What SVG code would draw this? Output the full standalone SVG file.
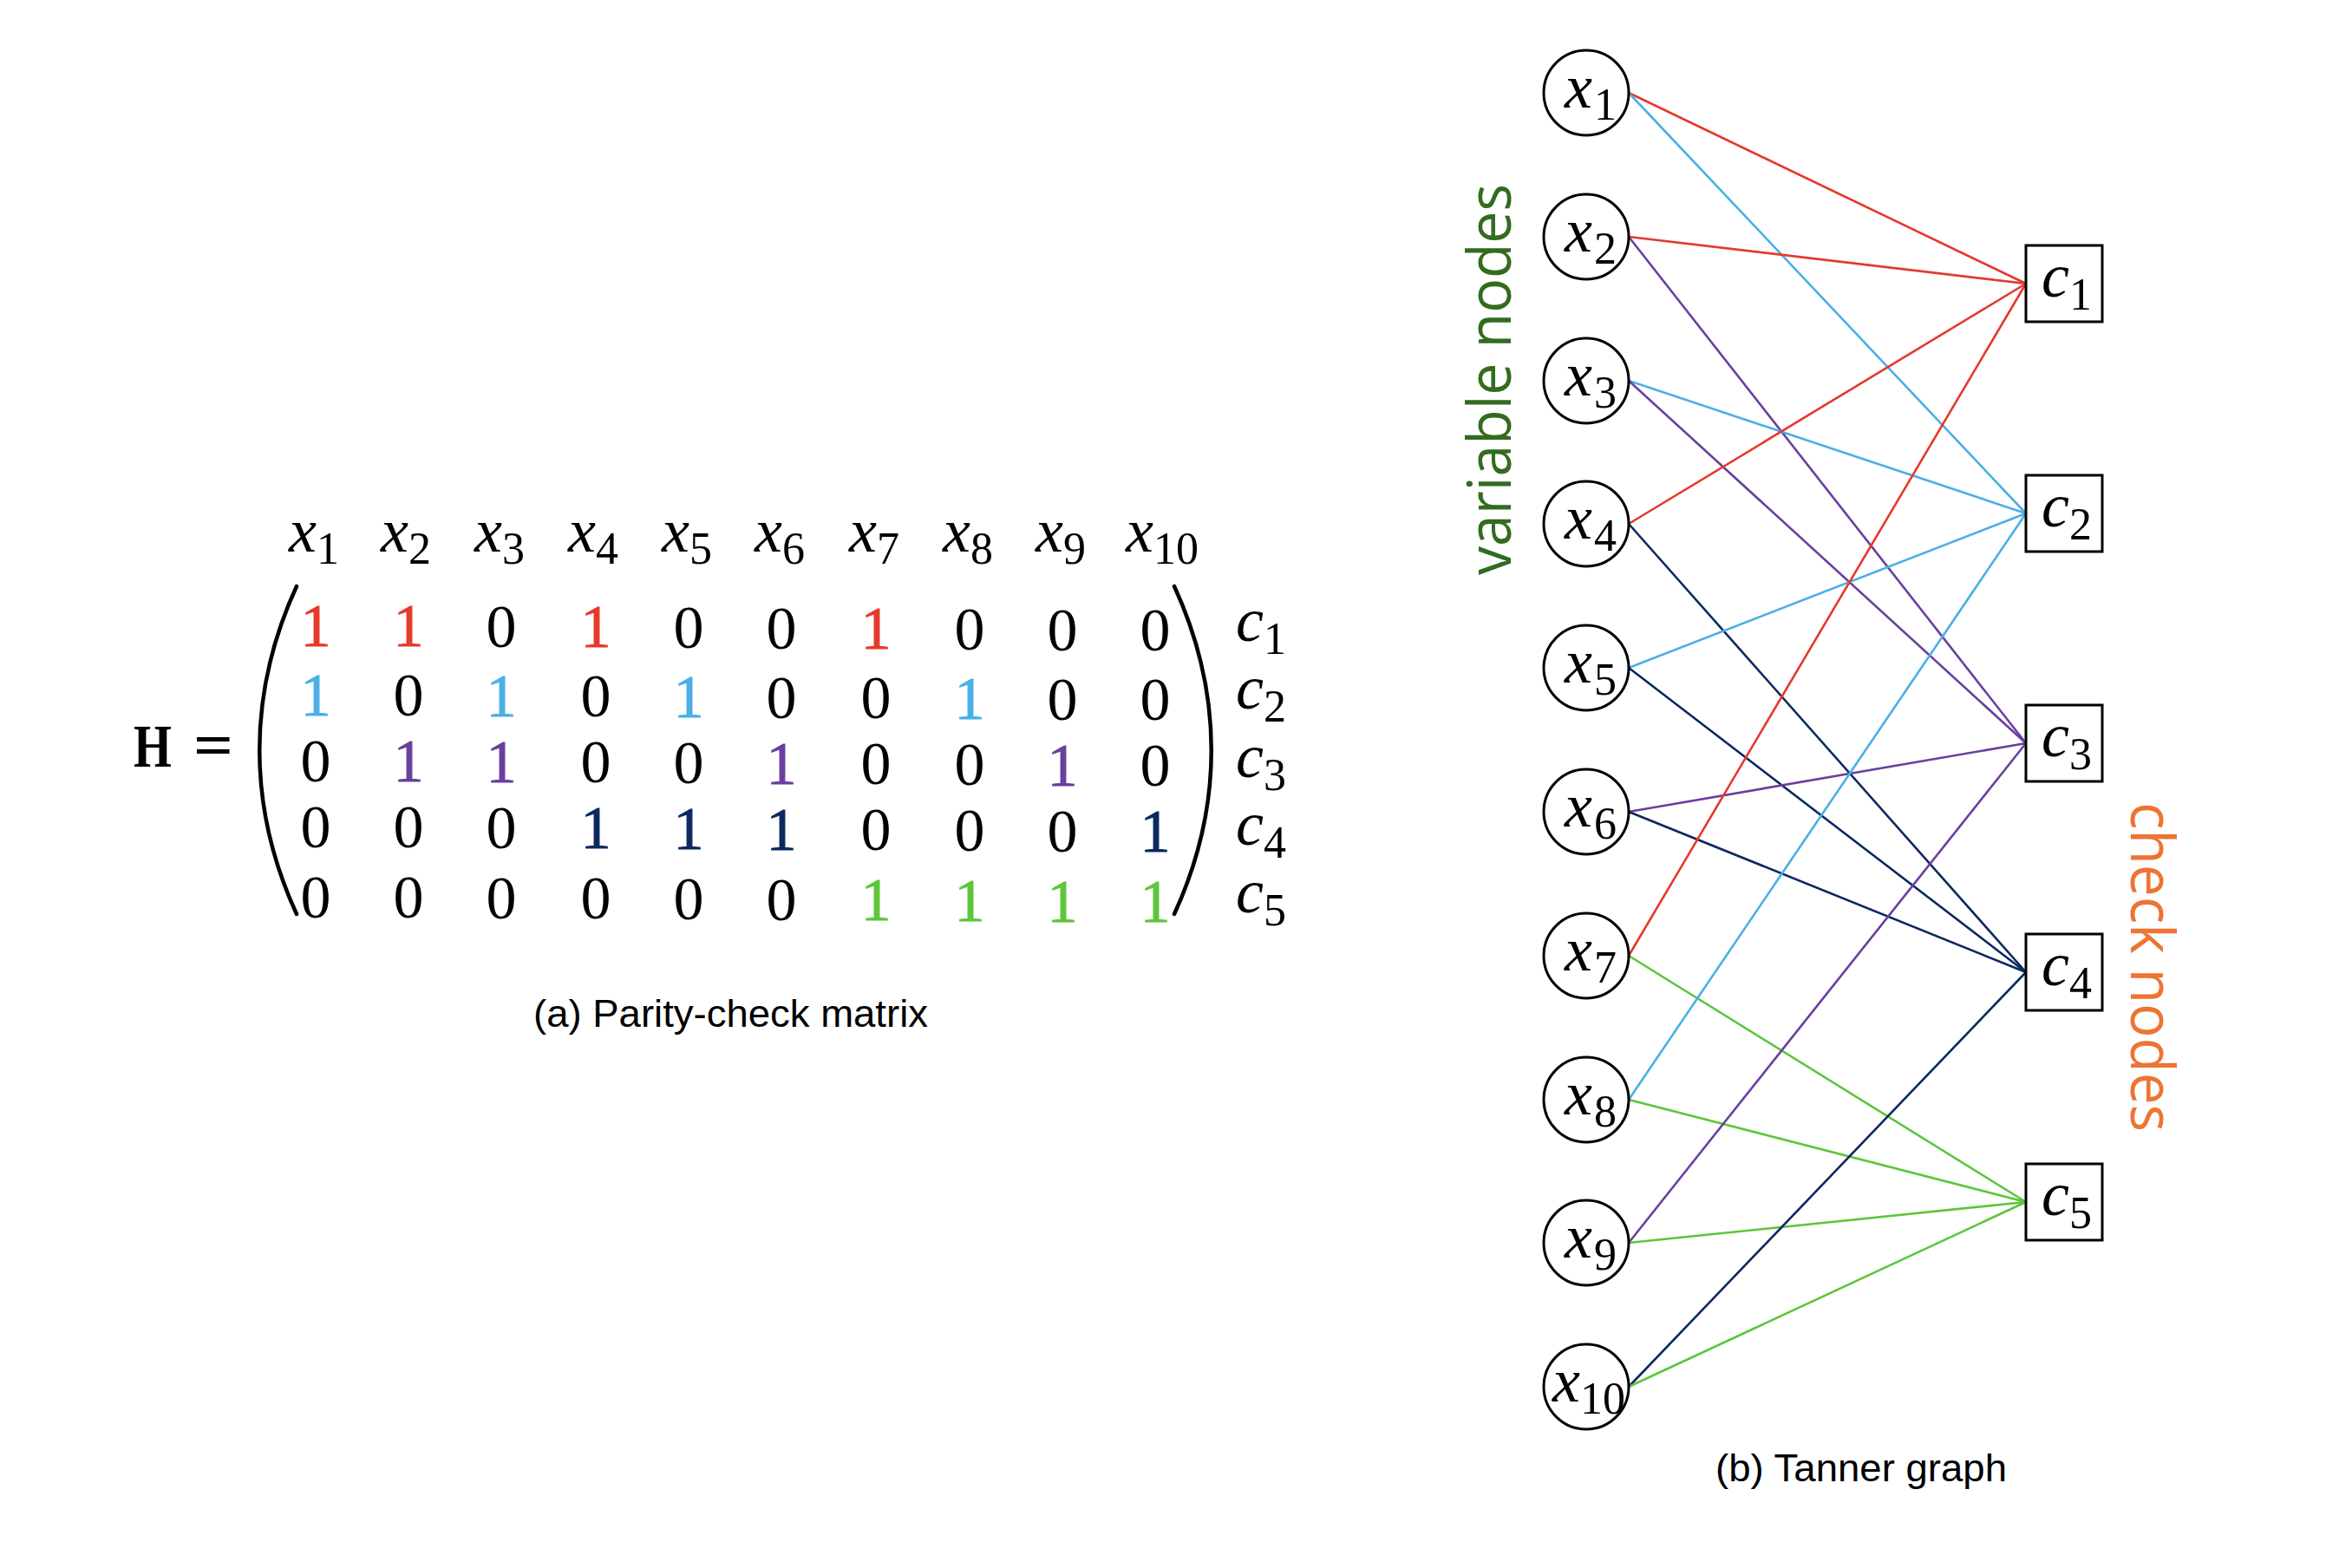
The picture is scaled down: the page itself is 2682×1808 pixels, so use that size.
<svg xmlns="http://www.w3.org/2000/svg" width="2682" height="1808" viewBox="0 0 2682 1808">
<defs>
<style>
.m{font-family:"Liberation Serif","DejaVu Serif",serif;font-style:italic;font-size:72px;fill:#000}
.sub{font-style:normal;font-size:52px}
.d{font-family:"Liberation Serif","DejaVu Serif",serif;font-size:70px;text-anchor:middle;fill:#000}
.cap{font-family:"Liberation Sans",Arial,sans-serif;font-size:44px;fill:#000}
.side{font-family:"Open Sans","Noto Sans",sans-serif;font-size:70px}
.vn{fill:#FFFFFF;stroke:#000;stroke-width:3}
.cn{fill:#FFFFFF;stroke:#000;stroke-width:3}
.e{fill:none;stroke-width:2.6}
.r{stroke:#E5392A;fill:#E5392A}
.b{stroke:#4AAFE6;fill:#4AAFE6}
.p{stroke:#6A3FA0;fill:#6A3FA0}
.n{stroke:#0C2860;fill:#0C2860}
.g{stroke:#5CC63B;fill:#5CC63B}
.paren{fill:none;stroke:#000;stroke-width:4.5;stroke-linecap:round}
</style>
</defs>
<rect width="2682" height="1808" fill="#FFFFFF"/>

<g id="matrix">
<text x="154" y="884" font-family="Liberation Serif,DejaVu Serif,serif" font-weight="bold" font-size="70" textLength="44" lengthAdjust="spacingAndGlyphs">H</text>
<text x="223" y="883" font-family="Liberation Serif,DejaVu Serif,serif" font-weight="bold" font-size="70" textLength="46" lengthAdjust="spacingAndGlyphs">=</text>
<path class="paren" d="M342,676 C285,800 285,930 342,1054"/>
<path class="paren" d="M1354,676 C1411,800 1411,930 1354,1054"/>
<g id="col-headers">
<text class="m" x="333" y="636">x<tspan class="sub" dy="14">1</tspan></text>
<text class="m" x="439" y="636">x<tspan class="sub" dy="14">2</tspan></text>
<text class="m" x="547" y="636">x<tspan class="sub" dy="14">3</tspan></text>
<text class="m" x="655" y="636">x<tspan class="sub" dy="14">4</tspan></text>
<text class="m" x="763" y="636">x<tspan class="sub" dy="14">5</tspan></text>
<text class="m" x="870" y="636">x<tspan class="sub" dy="14">6</tspan></text>
<text class="m" x="979" y="636">x<tspan class="sub" dy="14">7</tspan></text>
<text class="m" x="1087" y="636">x<tspan class="sub" dy="14">8</tspan></text>
<text class="m" x="1194" y="636">x<tspan class="sub" dy="14">9</tspan></text>
<text class="m" x="1298" y="636">x<tspan class="sub" dy="14">10</tspan></text>
</g>
<g id="row-labels">
<text class="m" x="1425" y="739">c<tspan class="sub" dy="15">1</tspan></text>
<text class="m" x="1425" y="817">c<tspan class="sub" dy="15">2</tspan></text>
<text class="m" x="1425" y="896">c<tspan class="sub" dy="15">3</tspan></text>
<text class="m" x="1425" y="974">c<tspan class="sub" dy="15">4</tspan></text>
<text class="m" x="1425" y="1052">c<tspan class="sub" dy="15">5</tspan></text>
</g>
<g id="row1">
<text class="d r" stroke="none" x="364" y="745">1</text>
<text class="d r" stroke="none" x="471" y="745">1</text>
<text class="d" x="578" y="746">0</text>
<text class="d r" stroke="none" x="687" y="746">1</text>
<text class="d" x="794" y="747">0</text>
<text class="d" x="901" y="748">0</text>
<text class="d r" stroke="none" x="1010" y="748">1</text>
<text class="d" x="1118" y="749">0</text>
<text class="d" x="1225" y="750">0</text>
<text class="d" x="1332" y="750">0</text>
</g>
<g id="row2">
<text class="d b" stroke="none" x="364" y="825">1</text>
<text class="d" x="471" y="825">0</text>
<text class="d b" stroke="none" x="578" y="826">1</text>
<text class="d" x="687" y="826">0</text>
<text class="d b" stroke="none" x="794" y="827">1</text>
<text class="d" x="901" y="828">0</text>
<text class="d" x="1010" y="828">0</text>
<text class="d b" stroke="none" x="1118" y="829">1</text>
<text class="d" x="1225" y="830">0</text>
<text class="d" x="1332" y="830">0</text>
</g>
<g id="row3">
<text class="d" x="364" y="901">0</text>
<text class="d p" stroke="none" x="471" y="901">1</text>
<text class="d p" stroke="none" x="578" y="902">1</text>
<text class="d" x="687" y="902">0</text>
<text class="d" x="794" y="903">0</text>
<text class="d p" stroke="none" x="901" y="904">1</text>
<text class="d" x="1010" y="904">0</text>
<text class="d" x="1118" y="905">0</text>
<text class="d p" stroke="none" x="1225" y="906">1</text>
<text class="d" x="1332" y="906">0</text>
</g>
<g id="row4">
<text class="d" x="364" y="977">0</text>
<text class="d" x="471" y="977">0</text>
<text class="d" x="578" y="978">0</text>
<text class="d n" stroke="none" x="687" y="978">1</text>
<text class="d n" stroke="none" x="794" y="979">1</text>
<text class="d n" stroke="none" x="901" y="980">1</text>
<text class="d" x="1010" y="980">0</text>
<text class="d" x="1118" y="981">0</text>
<text class="d" x="1225" y="982">0</text>
<text class="d n" stroke="none" x="1332" y="982">1</text>
</g>
<g id="row5">
<text class="d" x="364" y="1058">0</text>
<text class="d" x="471" y="1058">0</text>
<text class="d" x="578" y="1059">0</text>
<text class="d" x="687" y="1059">0</text>
<text class="d" x="794" y="1060">0</text>
<text class="d" x="901" y="1061">0</text>
<text class="d g" stroke="none" x="1010" y="1061">1</text>
<text class="d g" stroke="none" x="1118" y="1062">1</text>
<text class="d g" stroke="none" x="1225" y="1063">1</text>
<text class="d g" stroke="none" x="1332" y="1063">1</text>
</g>
<text class="cap" x="615" y="1184" textLength="455" lengthAdjust="spacingAndGlyphs">(a) Parity-check matrix</text>
</g>

<g id="connectors">
<line class="e r" x1="1878" y1="107" x2="2336" y2="327"/>
<line class="e b" x1="1878" y1="107" x2="2336" y2="592"/>
<line class="e r" x1="1878" y1="273" x2="2336" y2="327"/>
<line class="e p" x1="1878" y1="273" x2="2336" y2="857"/>
<line class="e b" x1="1878" y1="439" x2="2336" y2="592"/>
<line class="e p" x1="1878" y1="439" x2="2336" y2="857"/>
<line class="e r" x1="1878" y1="604" x2="2336" y2="327"/>
<line class="e n" x1="1878" y1="604" x2="2336" y2="1121"/>
<line class="e b" x1="1878" y1="770" x2="2336" y2="592"/>
<line class="e n" x1="1878" y1="770" x2="2336" y2="1121"/>
<line class="e p" x1="1878" y1="936" x2="2336" y2="857"/>
<line class="e n" x1="1878" y1="936" x2="2336" y2="1121"/>
<line class="e r" x1="1878" y1="1102" x2="2336" y2="327"/>
<line class="e g" x1="1878" y1="1102" x2="2336" y2="1386"/>
<line class="e b" x1="1878" y1="1268" x2="2336" y2="592"/>
<line class="e g" x1="1878" y1="1268" x2="2336" y2="1386"/>
<line class="e p" x1="1878" y1="1433" x2="2336" y2="857"/>
<line class="e g" x1="1878" y1="1433" x2="2336" y2="1386"/>
<line class="e n" x1="1878" y1="1599" x2="2336" y2="1121"/>
<line class="e g" x1="1878" y1="1599" x2="2336" y2="1386"/>
</g>

<g id="x1"><circle class="vn" cx="1829" cy="107" r="49"/><text class="m" x="1804" y="124">x<tspan class="sub" dx="2" dy="14">1</tspan></text></g>
<g id="x2"><circle class="vn" cx="1829" cy="273" r="49"/><text class="m" x="1804" y="290">x<tspan class="sub" dx="2" dy="14">2</tspan></text></g>
<g id="x3"><circle class="vn" cx="1829" cy="439" r="49"/><text class="m" x="1804" y="456">x<tspan class="sub" dx="2" dy="14">3</tspan></text></g>
<g id="x4"><circle class="vn" cx="1829" cy="604" r="49"/><text class="m" x="1804" y="621">x<tspan class="sub" dx="2" dy="14">4</tspan></text></g>
<g id="x5"><circle class="vn" cx="1829" cy="770" r="49"/><text class="m" x="1804" y="787">x<tspan class="sub" dx="2" dy="14">5</tspan></text></g>
<g id="x6"><circle class="vn" cx="1829" cy="936" r="49"/><text class="m" x="1804" y="953">x<tspan class="sub" dx="2" dy="14">6</tspan></text></g>
<g id="x7"><circle class="vn" cx="1829" cy="1102" r="49"/><text class="m" x="1804" y="1119">x<tspan class="sub" dx="2" dy="14">7</tspan></text></g>
<g id="x8"><circle class="vn" cx="1829" cy="1268" r="49"/><text class="m" x="1804" y="1285">x<tspan class="sub" dx="2" dy="14">8</tspan></text></g>
<g id="x9"><circle class="vn" cx="1829" cy="1433" r="49"/><text class="m" x="1804" y="1450">x<tspan class="sub" dx="2" dy="14">9</tspan></text></g>
<g id="x10"><circle class="vn" cx="1829" cy="1599" r="49"/><text class="m" x="1790" y="1616">x<tspan class="sub" dy="14">10</tspan></text></g>

<g id="c1"><rect class="cn" x="2336" y="283" width="88" height="88"/><text class="m" x="2354" y="342">c<tspan class="sub" dy="15">1</tspan></text></g>
<g id="c2"><rect class="cn" x="2336" y="548" width="88" height="88"/><text class="m" x="2354" y="607">c<tspan class="sub" dy="15">2</tspan></text></g>
<g id="c3"><rect class="cn" x="2336" y="813" width="88" height="88"/><text class="m" x="2354" y="872">c<tspan class="sub" dy="15">3</tspan></text></g>
<g id="c4"><rect class="cn" x="2336" y="1077" width="88" height="88"/><text class="m" x="2354" y="1136">c<tspan class="sub" dy="15">4</tspan></text></g>
<g id="c5"><rect class="cn" x="2336" y="1342" width="88" height="88"/><text class="m" x="2354" y="1401">c<tspan class="sub" dy="15">5</tspan></text></g>

<text class="side" fill="#336B1F" transform="translate(1742,663) rotate(-90)" textLength="451" lengthAdjust="spacingAndGlyphs">variable nodes</text>
<text class="side" fill="#ED7432" transform="translate(2457,925) rotate(90)" textLength="380" lengthAdjust="spacingAndGlyphs">check nodes</text>
<text class="cap" x="1978" y="1708" textLength="336" lengthAdjust="spacingAndGlyphs">(b) Tanner graph</text>
</svg>
